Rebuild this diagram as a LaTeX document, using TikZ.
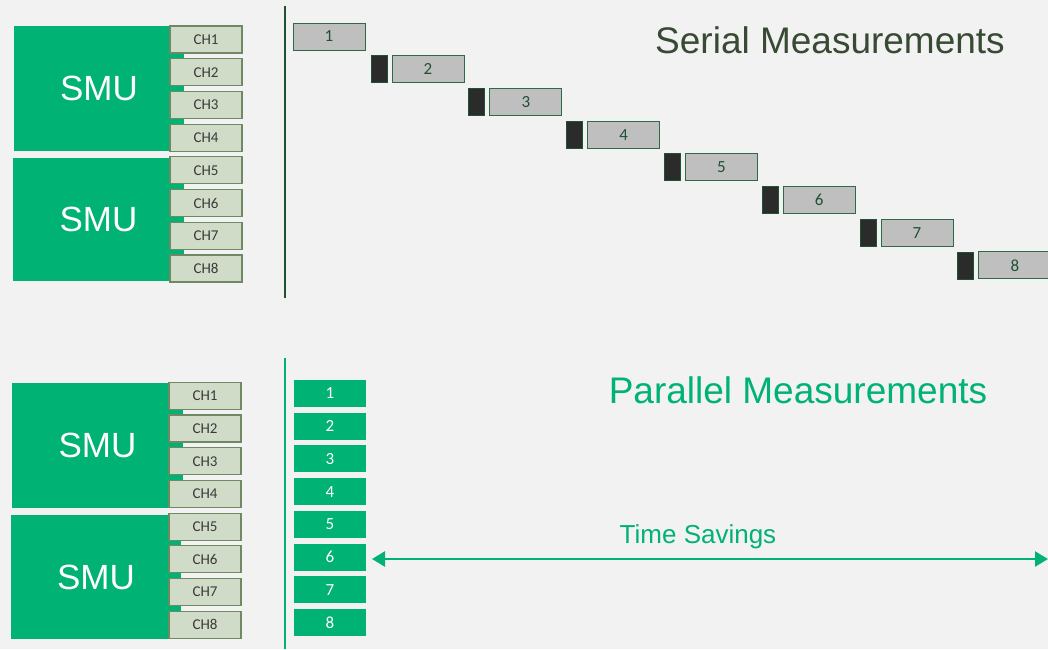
\documentclass[tikz,border=0pt]{standalone}
\usepackage{fontspec}
\setmainfont{Liberation Sans}
\newfontfamily\carlito{Carlito}
\usetikzlibrary{arrows.meta}
\definecolor{bg}{HTML}{F2F2F2}
\definecolor{smugreen}{HTML}{00B274}
\definecolor{chfill}{HTML}{D0DCC8}
\definecolor{chline}{HTML}{6F8A63}
\definecolor{chtext}{HTML}{3A3A3A}
\definecolor{barfill}{HTML}{BFBFBF}
\definecolor{darkgreen}{HTML}{1E5233}
\definecolor{barline}{HTML}{2F6A47}
\definecolor{blockfill}{HTML}{2B2B2B}
\definecolor{titlegrey}{HTML}{384A33}
\tikzset{
  smubox/.style={fill=smugreen, inner sep=0, outer sep=0, anchor=north west,
    text=white, font=\fontsize{35}{35}\selectfont},
  chbox/.style={draw=chline, fill=chfill, line width=1.2pt, minimum width=72pt,
    minimum height=27pt, inner sep=0, outer sep=0, anchor=north west,
    text=chtext, font=\carlito\fontsize{15}{15}\selectfont},
  serialbar/.style={draw=barline, fill=barfill, line width=0.9pt, minimum width=72pt,
    minimum height=27pt, inner sep=0, outer sep=0, anchor=north west,
    text=darkgreen, font=\carlito\fontsize{17}{17}\selectfont},
  switchblock/.style={draw=darkgreen, fill=blockfill, line width=0.8pt, minimum width=16pt,
    minimum height=27pt, inner sep=0, outer sep=0, anchor=north west},
  parbar/.style={fill=smugreen, minimum width=72pt, minimum height=27pt, inner sep=0,
    outer sep=0, anchor=north west, text=white, font=\carlito\fontsize{17}{17}\selectfont},
  axisline/.style={line width=2.3pt},
}
\begin{document}
\begin{tikzpicture}[x=1pt,y=-1pt]
\fill[bg] (0,0) rectangle (1048,649);
\useasboundingbox (0,0) rectangle (1048,649);

% ---- serial section ----
\node[smubox, minimum width=170pt, minimum height=125pt] (smuA) at (14,26) {SMU};
\node[smubox, minimum width=171pt, minimum height=123pt] (smuB) at (13,158) {SMU};
\foreach \i in {1,...,8}{
  \node[chbox] (tch\i) at (170,{26+(\i-1)*32.7}) {CH\i};
}
\draw[axisline, darkgreen] (285,6) coordinate (tl1) -- (285,298) coordinate (tl2);

\node[serialbar] (s1) at (293,23) {1};
\foreach \k in {2,...,8}{
  \pgfmathsetmacro{\xx}{392+(\k-2)*97.8}
  \pgfmathsetmacro{\yy}{23+(\k-1)*32.7}
  \node[switchblock] (d\k) at (\xx-21,\yy) {};
  \node[serialbar] (s\k) at (\xx,\yy) {\k};
}
\node[text=titlegrey, font=\fontsize{37}{37}\selectfont] (ttl1) at (830,40) {Serial Measurements};

% ---- parallel section ----
\node[smubox, minimum width=171pt, minimum height=125pt] (smuC) at (12,383) {SMU};
\node[smubox, minimum width=170pt, minimum height=124pt] (smuD) at (11,515) {SMU};
\foreach \i in {1,...,8}{
  \node[chbox] (bch\i) at (169,{382.3+(\i-1)*32.7}) {CH\i};
}
\draw[axisline, smugreen] (285,358) coordinate (bl1) -- (285,649) coordinate (bl2);
\foreach \k in {1,...,8}{
  \node[parbar] (p\k) at (294,{380+(\k-1)*32.7}) {\k};
}
\node[text=smugreen, font=\fontsize{37}{37}\selectfont] (ttl2) at (798,390) {Parallel Measurements};

\coordinate (ta) at (372,559);
\coordinate (tb) at (1048,559);
\draw[smugreen, line width=2.4pt, {Triangle[length=13pt,width=15pt]}-{Triangle[length=13pt,width=15pt]}] (ta) -- (tb);
\node[text=smugreen, font=\fontsize{26}{26}\selectfont] (tsv) at (698,537) {Time Savings};
\end{tikzpicture}
\end{document}
